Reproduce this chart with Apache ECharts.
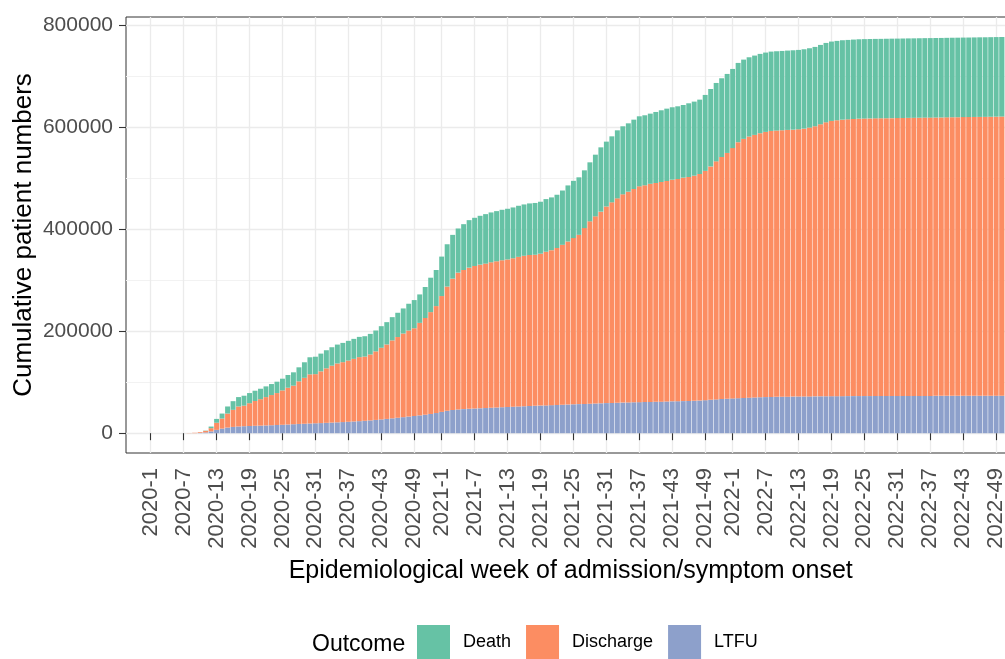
<!DOCTYPE html>
<html>
<head>
<meta charset="utf-8">
<title>Cumulative patient numbers by outcome</title>
<script src="https://cdn.jsdelivr.net/npm/echarts@6/dist/echarts.min.js"></script>
<style>
  html, body { margin: 0; padding: 0; background: #ffffff; overflow: hidden; }
  #chart { width: 1030px; height: 659px; }
</style>
</head>
<body>
<div id="chart"></div>
<script>
// Epidemiological weeks on the x axis: [year, first week, last week]
const weekSpans = [[2019, 49, 52], [2020, 1, 53], [2021, 1, 53], [2022, 1, 52]];
// Weeks that carry a tick label, and the years they are labelled in
const labelWeeks = [1, 7, 13, 19, 25, 31, 37, 43, 49];
const labelYears = [2020, 2021, 2022];
const yTicks = [0, 200000, 400000, 600000, 800000];
const yMinorTicks = [100000, 300000, 500000, 700000];

// Cumulative patients per outcome, one value per week
const ltfu = [
  0,0,0,0,0,0,0,0,0,0,
  0,0,0,500,1500,3500,6500,9000,11000,12300,
  13200,13700,14100,14500,14800,15200,15600,16000,16500,17000,
  17600,18100,18500,19000,19400,19800,20300,20800,21300,21800,
  22400,23000,23600,24300,25100,26000,27000,28000,29100,30200,
  31400,32600,33700,34900,36200,37700,39500,41800,44000,45500,
  46500,47200,47800,48300,48800,49300,49800,50400,50900,51400,
  51900,52400,52800,53300,53700,54100,54500,55000,55400,55800,
  56200,56600,57000,57400,57800,58200,58600,59000,59300,59700,
  60000,60300,60600,60900,61200,61400,61700,61900,62200,62400,
  62700,62900,63200,63500,64000,64700,65500,66300,67000,67600,
  68200,68700,69200,69700,70100,70500,70800,71100,71300,71500,
  71700,71800,71900,72000,72100,72200,72300,72400,72500,72600,
  72600,72700,72700,72800,72800,72800,72900,72900,72900,73000,
  73000,73000,73000,73100,73100,73100,73100,73200,73200,73200,
  73200,73200,73300,73300,73300,73300,73300,73400,73400,73400,
  73400,73400
];
const discharge = [
  0,0,0,0,0,0,0,0,0,0,
  0,300,800,1500,3100,6300,14000,19700,27500,33500,
  39200,40300,44700,48600,51900,55600,59200,62700,67400,72100,
  75600,83600,90100,96400,96400,101500,106900,111600,115500,117500,
  120100,122800,125600,125900,129300,134500,140600,146000,152900,158400,
  164100,168800,172100,181500,189700,199800,209800,227200,243600,257600,
  268400,272900,276900,279700,281800,283300,285400,286800,288300,289400,
  291200,293500,295200,296200,296300,298000,301400,304000,307900,313700,
  319800,326100,332100,344900,357700,367100,375900,385700,393500,400900,
  408500,413400,418400,423300,425000,427800,429000,430800,432500,434900,
  435900,438300,439300,441600,444400,449800,457700,466900,474700,482100,
  491000,502100,508100,512200,515000,517900,520200,521800,522300,522700,
  523200,523600,524200,525400,527300,529800,533600,537400,540000,541200,
  542400,542900,543600,544100,544400,544600,544700,544800,544900,545000,
  545100,545300,545500,545500,545700,545900,545900,546000,546100,546300,
  546500,546600,546700,546800,547000,547100,547200,547300,547500,547700,
  547800,548000
];
const death = [
  0,0,0,0,0,0,0,0,0,0,
  0,0,0,0,500,3200,7500,9800,13900,17000,
  18400,19500,19900,20200,20500,21000,21600,22300,23000,25000,
  26200,27500,30500,33500,34200,34800,35500,36200,37000,37800,
  38600,39200,39700,40000,40400,40900,42300,43800,45600,47600,
  49200,52500,55300,55800,60800,67500,70800,77400,83000,85900,
  86600,89900,93200,94500,95800,97100,97800,98400,99000,99400,
  99700,100200,100700,101200,101600,101900,103300,103500,104400,106500,
  110000,112300,112800,113300,115800,121000,126200,127200,129500,133500,
  133500,134100,136000,137400,137400,137600,139400,140700,141900,142000,
  142600,142600,144600,145300,145900,149000,152000,153800,154500,155000,
  155300,155500,155500,155500,155600,155600,155600,155600,155600,155600,
  155600,155700,155700,155700,155700,155700,155700,155700,155700,155700,
  155800,155800,155800,155800,155800,155800,155800,155800,155900,155900,
  155900,155900,155900,155900,155900,155900,156000,156000,156000,156000,
  156000,156000,156000,156000,156000,156100,156100,156100,156100,156100,
  156100,156100
];

const weeks = [];
weekSpans.forEach(([year, first, last]) => {
  for (let w = first; w <= last; w++) weeks.push(year + '-' + w);
});

function isLabelled(index, value) {
  const [y, w] = String(value).split('-').map(Number);
  return labelYears.indexOf(y) >= 0 && labelWeeks.indexOf(w) >= 0;
}

const FONT = '"Liberation Sans", Arial, Helvetica, sans-serif';
const COLORS = { Death: '#66C2A5', Discharge: '#FC8D62', LTFU: '#8DA0CB' };

// Panel geometry (pixels)
const panelLeft = 126, panelTop = 17, bandWidth = 5.49, panelHeight = 436;
const panelWidth = weeks.length * bandWidth;

const chart = echarts.init(document.getElementById('chart'), null, { renderer: 'canvas' });

const yRange = { min: -38875, max: 816375 };

chart.setOption({
  animation: false,
  backgroundColor: '#ffffff',
  textStyle: { fontFamily: FONT },
  grid: {
    left: panelLeft, top: panelTop, width: panelWidth, height: panelHeight,
    show: true, borderColor: '#333333', borderWidth: 1, backgroundColor: 'transparent'
  },
  legend: {
    data: ['Death', 'Discharge', 'LTFU'],
    left: 417, top: 625, padding: 0,
    icon: 'rect', itemWidth: 33, itemHeight: 34, itemGap: 15,
    textStyle: { fontSize: 18, color: '#000000', fontFamily: FONT, padding: [6, 0, 0, 8] },
    selectedMode: false
  },
  xAxis: {
    type: 'category',
    data: weeks,
    boundaryGap: true,
    axisLine: { show: false },
    axisTick: { show: true, alignWithLabel: true, interval: isLabelled, length: 7,
      lineStyle: { color: '#333333', width: 1.1 } },
    axisLabel: { interval: isLabelled, rotate: 90, fontSize: 22, color: '#4D4D4D', margin: 15, fontFamily: FONT },
    splitLine: { show: true, interval: isLabelled, alignWithLabel: true,
      lineStyle: { color: '#EBEBEB', width: 1.3 } }
  },
  yAxis: [{
    type: 'value', min: yRange.min, max: yRange.max,
    axisLine: { show: false },
    axisTick: { show: true, customValues: yTicks, length: 7, lineStyle: { color: '#333333', width: 1.1 } },
    axisLabel: { customValues: yTicks, fontSize: 21, color: '#4D4D4D', margin: 13, fontFamily: FONT,
      formatter: (v) => String(v) },
    splitLine: { show: true, lineStyle: { color: '#EBEBEB', width: 1.3 } }
  }, {
    type: 'value', min: yRange.min, max: yRange.max, position: 'left',
    axisLine: { show: false },
    axisTick: { show: false, customValues: yMinorTicks },
    axisLabel: { show: false },
    splitLine: { show: true, lineStyle: { color: '#F2F2F2', width: 1 } }
  }],
  graphic: [
    { type: 'text', x: 570.7, y: 571, style: { text: 'Epidemiological week of admission/symptom onset',
        font: '25px ' + FONT, fill: '#000000', align: 'center', verticalAlign: 'middle' } },
    { type: 'text', x: 23.5, y: 235, rotation: Math.PI / 2, style: { text: 'Cumulative patient numbers',
        font: '26px ' + FONT, fill: '#000000', align: 'center', verticalAlign: 'middle' } },
    { type: 'text', x: 312, y: 645, style: { text: 'Outcome',
        font: '23px ' + FONT, fill: '#000000', align: 'left', verticalAlign: 'middle' } }
  ],
  series: [
    { name: 'LTFU', type: 'bar', stack: 'outcome', data: ltfu, barCategoryGap: '10%',
      itemStyle: { color: COLORS.LTFU } },
    { name: 'Discharge', type: 'bar', stack: 'outcome', data: discharge, barCategoryGap: '10%',
      itemStyle: { color: COLORS.Discharge } },
    { name: 'Death', type: 'bar', stack: 'outcome', data: death, barCategoryGap: '10%',
      itemStyle: { color: COLORS.Death } }
  ]
});
</script>
</body>
</html>
